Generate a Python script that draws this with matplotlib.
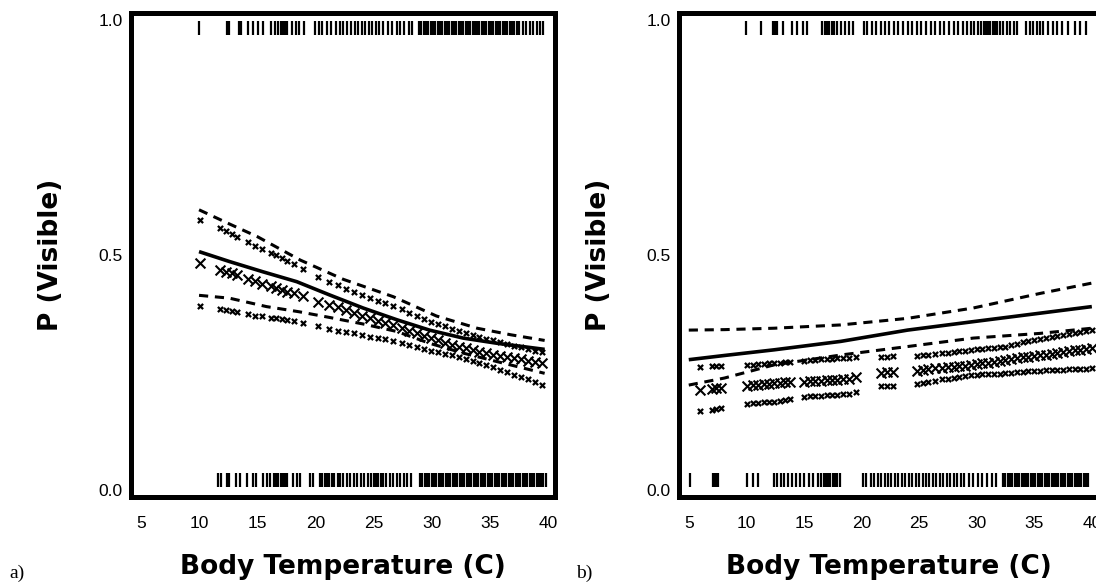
# ----------------------------------------
# P(Visible) vs body temperature, two models
# ----------------------------------------

import matplotlib
matplotlib.use("Agg")
import matplotlib.pyplot as plt

# ---- Panel a: fitted curve and 95% band ----
a_curve_t = [10.0, 12.6, 15.5, 18.4, 21.2, 24.1, 27.0, 29.8, 32.7, 35.6, 39.7]
a_fit = [0.507, 0.486, 0.464, 0.443, 0.415, 0.387, 0.362, 0.340, 0.323, 0.312, 0.299]
a_up_t = [10.0, 12.6, 15.0, 18.7, 22.4, 26.7, 30.4, 33.9, 36.8, 39.7]
a_up = [0.596, 0.566, 0.539, 0.489, 0.448, 0.411, 0.370, 0.344, 0.330, 0.318]
a_lo_t = [10.0, 12.6, 15.8, 18.6, 21.2, 24.1, 27.0, 29.8, 32.7, 35.6, 39.7]
a_lo = [0.414, 0.408, 0.390, 0.379, 0.367, 0.353, 0.337, 0.312, 0.291, 0.273, 0.248]

# ---- Panel a: per-observation predictions ----
a_obs_t = [10.1, 11.8, 12.3, 12.8, 13.3, 14.2, 14.8, 15.4, 16.2, 16.6, 17.1, 17.6,
           18.2, 18.9, 20.2, 21.2, 21.9, 22.6, 23.3, 24.0, 24.7, 25.4, 26.0, 26.7,
           27.4, 28.0, 28.7, 29.3, 29.9, 30.5, 31.1, 31.7, 32.3, 32.9, 33.5, 34.1,
           34.7, 35.3, 35.9, 36.5, 37.1, 37.7, 38.3, 38.9, 39.5]
a_obs_up = [0.575, 0.557, 0.551, 0.545, 0.538, 0.527, 0.519, 0.512, 0.505, 0.500, 0.494, 0.488,
            0.481, 0.471, 0.452, 0.442, 0.435, 0.428, 0.421, 0.414, 0.408, 0.402, 0.397, 0.392,
            0.385, 0.377, 0.369, 0.363, 0.357, 0.352, 0.348, 0.343, 0.338, 0.334, 0.330, 0.326,
            0.322, 0.318, 0.314, 0.310, 0.307, 0.303, 0.300, 0.296, 0.293]
a_obs_mid = [0.482, 0.468, 0.464, 0.461, 0.457, 0.449, 0.444, 0.439, 0.433, 0.430, 0.426, 0.422,
             0.418, 0.412, 0.400, 0.393, 0.389, 0.383, 0.377, 0.370, 0.365, 0.360, 0.355, 0.350,
             0.344, 0.339, 0.333, 0.328, 0.323, 0.318, 0.313, 0.309, 0.305, 0.301, 0.298, 0.294,
             0.291, 0.288, 0.285, 0.283, 0.280, 0.278, 0.275, 0.273, 0.271]
a_obs_lo = [0.391, 0.385, 0.383, 0.381, 0.379, 0.374, 0.371, 0.369, 0.366, 0.365, 0.363, 0.361,
            0.359, 0.355, 0.349, 0.343, 0.338, 0.336, 0.333, 0.329, 0.326, 0.323, 0.320, 0.316,
            0.312, 0.309, 0.304, 0.300, 0.296, 0.293, 0.290, 0.287, 0.283, 0.279, 0.274, 0.269,
            0.265, 0.261, 0.256, 0.250, 0.245, 0.240, 0.235, 0.229, 0.224]

# ---- Panel a: raw visible (1) / not visible (0) temperatures ----
a_ones = [10.0, 12.4, 12.6, 13.4, 13.6, 14.2, 14.6, 15.1, 15.5, 16.2, 16.5, 16.8, 17.0, 17.2,
          17.4, 17.6, 18.0, 18.3, 18.6, 19.0, 20.0, 20.3, 20.6, 21.0, 21.3, 21.8, 22.1, 22.4,
          22.7, 23.1, 23.4, 23.7, 24.0, 24.3, 24.6, 24.9, 25.2, 25.5, 25.8, 26.2, 26.6, 27.0,
          27.3, 27.6, 28.0, 28.3, 28.9, 29.1, 29.3, 29.5, 29.7, 29.9, 30.1, 30.3, 30.5, 30.7,
          30.9, 31.1, 31.3, 31.5, 31.7, 31.9, 32.1, 32.3, 32.5, 32.7, 32.9, 33.1, 33.3, 33.5,
          33.7, 33.9, 34.1, 34.3, 34.5, 34.7, 34.9, 35.1, 35.3, 35.5, 35.7, 35.9, 36.1, 36.3,
          36.5, 36.7, 36.9, 37.1, 37.3, 37.5, 37.8, 38.1, 38.4, 38.7, 39.0, 39.3, 39.6]
a_zeros = [11.6, 11.9, 12.4, 12.6, 13.2, 13.5, 14.1, 14.6, 14.9, 15.5, 15.8, 16.1, 16.4, 16.6,
           16.8, 17.0, 17.2, 17.4, 17.6, 18.1, 18.4, 18.7, 19.5, 19.8, 20.4, 20.6, 20.8, 21.0,
           21.2, 21.4, 21.6, 21.9, 22.1, 22.4, 22.7, 23.0, 23.3, 23.6, 23.9, 24.2, 24.5, 24.8,
           25.0, 25.2, 25.4, 25.6, 25.8, 26.1, 26.4, 26.7, 27.0, 27.3, 27.6, 27.9, 28.2, 29.0,
           29.2, 29.4, 29.6, 29.8, 30.0, 30.2, 30.4, 30.6, 30.8, 31.0, 31.2, 31.4, 31.6, 31.8,
           32.0, 32.2, 32.4, 32.6, 32.8, 33.0, 33.2, 33.4, 33.6, 33.8, 34.0, 34.2, 34.4, 34.6,
           34.8, 35.0, 35.2, 35.4, 35.6, 35.8, 36.0, 36.2, 36.4, 36.6, 36.8, 37.0, 37.2, 37.4,
           37.6, 37.8, 38.0, 38.2, 38.4, 38.6, 38.8, 39.0, 39.2, 39.4, 39.6, 39.8]

# ---- Panel b: fitted curve and 95% band ----
b_curve_t = [5.0, 8.1, 12.4, 18.2, 24.0, 29.7, 35.5, 40.0]
b_fit = [0.277, 0.286, 0.298, 0.316, 0.340, 0.358, 0.376, 0.390]
b_up = [0.340, 0.341, 0.344, 0.351, 0.365, 0.387, 0.418, 0.440]
b_lo = [0.223, 0.238, 0.266, 0.287, 0.305, 0.323, 0.333, 0.344]

# ---- Panel b: per-observation predictions ----
b_obs_t = [6.0, 7.0, 7.4, 7.8, 10.1, 10.6, 11.0, 11.5, 12.0, 12.4, 12.9, 13.4, 13.8, 15.0,
           15.5, 16.0, 16.5, 17.0, 17.4, 17.9, 18.4, 18.9, 19.5, 21.7, 22.2, 22.7, 24.8, 25.3,
           25.8, 26.4, 27.0, 27.5, 28.0, 28.5, 29.0, 29.5, 30.0, 30.5, 31.0, 31.5, 32.0, 32.5,
           33.0, 33.5, 34.0, 34.5, 35.0, 35.5, 36.0, 36.5, 37.0, 37.5, 38.0, 38.5, 39.0, 39.5, 40.0]
b_obs_up = [0.262, 0.263, 0.263, 0.264, 0.265, 0.266, 0.267, 0.268, 0.269, 0.270, 0.271, 0.272,
            0.273, 0.275, 0.276, 0.277, 0.278, 0.279, 0.279, 0.280, 0.281, 0.281, 0.282, 0.283,
            0.283, 0.284, 0.285, 0.287, 0.288, 0.290, 0.291, 0.292, 0.294, 0.295, 0.296, 0.297,
            0.299, 0.300, 0.301, 0.302, 0.304, 0.305, 0.308, 0.311, 0.314, 0.317, 0.319, 0.321,
            0.323, 0.325, 0.327, 0.329, 0.331, 0.334, 0.336, 0.338, 0.340]
b_obs_mid = [0.212, 0.214, 0.216, 0.217, 0.222, 0.223, 0.224, 0.225, 0.226, 0.227, 0.228, 0.229,
             0.229, 0.230, 0.231, 0.232, 0.232, 0.233, 0.233, 0.234, 0.235, 0.237, 0.240, 0.249,
             0.250, 0.251, 0.254, 0.255, 0.257, 0.259, 0.260, 0.261, 0.262, 0.263, 0.264, 0.266,
             0.267, 0.269, 0.271, 0.273, 0.275, 0.277, 0.278, 0.280, 0.282, 0.283, 0.285, 0.287,
             0.288, 0.290, 0.292, 0.293, 0.295, 0.297, 0.298, 0.300, 0.301]
b_obs_lo = [0.167, 0.171, 0.173, 0.174, 0.183, 0.184, 0.185, 0.186, 0.187, 0.188, 0.190, 0.192,
            0.194, 0.198, 0.199, 0.200, 0.200, 0.201, 0.201, 0.202, 0.203, 0.205, 0.208, 0.220,
            0.221, 0.222, 0.226, 0.228, 0.230, 0.232, 0.235, 0.237, 0.239, 0.241, 0.243, 0.244,
            0.245, 0.246, 0.246, 0.247, 0.247, 0.248, 0.249, 0.250, 0.251, 0.252, 0.253, 0.254,
            0.255, 0.255, 0.256, 0.256, 0.257, 0.257, 0.258, 0.258, 0.259]

# ---- Panel b: raw visible / not visible temperatures ----
b_ones = [10.0, 11.3, 12.3, 12.5, 12.7, 13.2, 14.0, 14.4, 14.9, 15.3, 16.6, 16.8, 17.0, 17.2,
          17.4, 17.6, 17.9, 18.2, 18.6, 18.9, 19.3, 20.2, 20.5, 20.9, 21.3, 21.7, 22.0, 22.4,
          22.8, 23.2, 23.6, 24.0, 24.4, 24.8, 25.2, 25.6, 26.0, 26.4, 26.8, 27.2, 27.6, 28.0,
          28.4, 28.8, 29.2, 29.5, 29.8, 30.1, 30.4, 30.6, 30.8, 31.0, 31.2, 31.4, 31.6, 31.8,
          32.0, 32.3, 32.6, 32.9, 33.2, 33.5, 34.3, 34.6, 34.9, 35.2, 35.5, 35.8, 36.2, 36.6,
          37.0, 37.4, 37.9, 38.5, 39.0, 39.5]
b_zeros = [5.1, 7.1, 7.25, 7.4, 7.5, 10.1, 10.6, 11.0, 12.4, 12.7, 13.0, 13.3, 13.6, 14.0,
           14.3, 14.7, 15.0, 15.4, 15.8, 16.2, 16.5, 16.7, 16.9, 17.1, 17.3, 17.5, 17.7, 17.9,
           18.1, 20.1, 20.4, 20.8, 21.1, 21.4, 21.7, 22.0, 22.3, 22.6, 22.9, 23.2, 23.5, 23.8,
           24.1, 24.4, 24.7, 25.0, 25.3, 25.6, 25.9, 26.2, 26.5, 26.8, 27.1, 27.4, 27.7, 28.0,
           28.3, 28.6, 28.9, 29.3, 29.7, 30.1, 30.5, 30.9, 31.3, 31.7, 32.3, 32.5, 32.7, 32.9,
           33.1, 33.3, 33.5, 33.7, 33.9, 34.1, 34.3, 34.5, 34.7, 34.9, 35.1, 35.3, 35.5, 35.7,
           35.9, 36.1, 36.3, 36.5, 36.7, 36.9, 37.1, 37.3, 37.5, 37.7, 37.9, 38.1, 38.3, 38.5,
           38.7, 38.9, 39.1, 39.3, 39.5, 39.7]

x_ticks = [5, 10, 15, 20, 25, 30, 35, 40]
y_ticks = [0.0, 0.5, 1.0]
y_tick_labels = ["0.0", "0.5", "1.0"]

plt.rcParams["font.family"] = ["Liberation Sans", "DejaVu Sans"]

fig = plt.figure(figsize=(10.96, 5.86), dpi=100)
ax_a = fig.add_axes([0.1195, 0.152, 0.387, 0.826])
ax_b = fig.add_axes([0.6195, 0.152, 0.383, 0.826])


def draw_panel(ax, ones, zeros, fit_t, fit, up_t, up, lo_t, lo, obs_t, obs_up, obs_mid, obs_lo):
    # rug of raw observations along the top and bottom
    ax.vlines(ones, 0.968, 0.997, color="black", lw=1.6)
    ax.vlines(zeros, 0.006, 0.036, color="black", lw=1.6)

    # fitted curve with dashed confidence limits
    ax.plot(fit_t, fit, color="black", lw=2.6, solid_capstyle="butt")
    ax.plot(up_t, up, color="black", lw=2.2, dashes=(3, 2.2))
    ax.plot(lo_t, lo, color="black", lw=2.2, dashes=(3, 2.2))

    # per-observation predictions and limits
    ax.scatter(obs_t, obs_up, marker="x", s=14, color="black", linewidths=1.6)
    ax.scatter(obs_t, obs_mid, marker="x", s=50, color="black", linewidths=1.5)
    ax.scatter(obs_t, obs_lo, marker="x", s=14, color="black", linewidths=1.6)

    ax.set_xlim(4.15, 40.6)
    ax.set_ylim(-0.015, 1.015)
    ax.set_xticks(x_ticks)
    ax.set_yticks(y_ticks)
    ax.set_yticklabels(y_tick_labels)
    ax.tick_params(length=0, labelsize=12.5)
    ax.tick_params(axis="x", pad=14)
    ax.tick_params(axis="y", pad=6)
    for sp in ax.spines.values():
        sp.set_linewidth(3.6)
    ax.set_xlabel("Body Temperature (C)", fontsize=19, fontweight="bold",
                  family="DejaVu Sans", labelpad=16)
    ax.set_ylabel("P (Visible)", fontsize=19, fontweight="bold",
                  family="DejaVu Sans", labelpad=25)


draw_panel(ax_a, a_ones, a_zeros, a_curve_t, a_fit, a_up_t, a_up, a_lo_t, a_lo,
           a_obs_t, a_obs_up, a_obs_mid, a_obs_lo)
draw_panel(ax_b, b_ones, b_zeros, b_curve_t, b_fit, b_curve_t, b_up, b_curve_t, b_lo,
           b_obs_t, b_obs_up, b_obs_mid, b_obs_lo)

# panel letters
fig.text(0.009, 0.013, "a)", fontsize=14, family="Liberation Serif")
fig.text(0.526, 0.013, "b)", fontsize=14, family="Liberation Serif")

fig.savefig("out.png", dpi=100)
